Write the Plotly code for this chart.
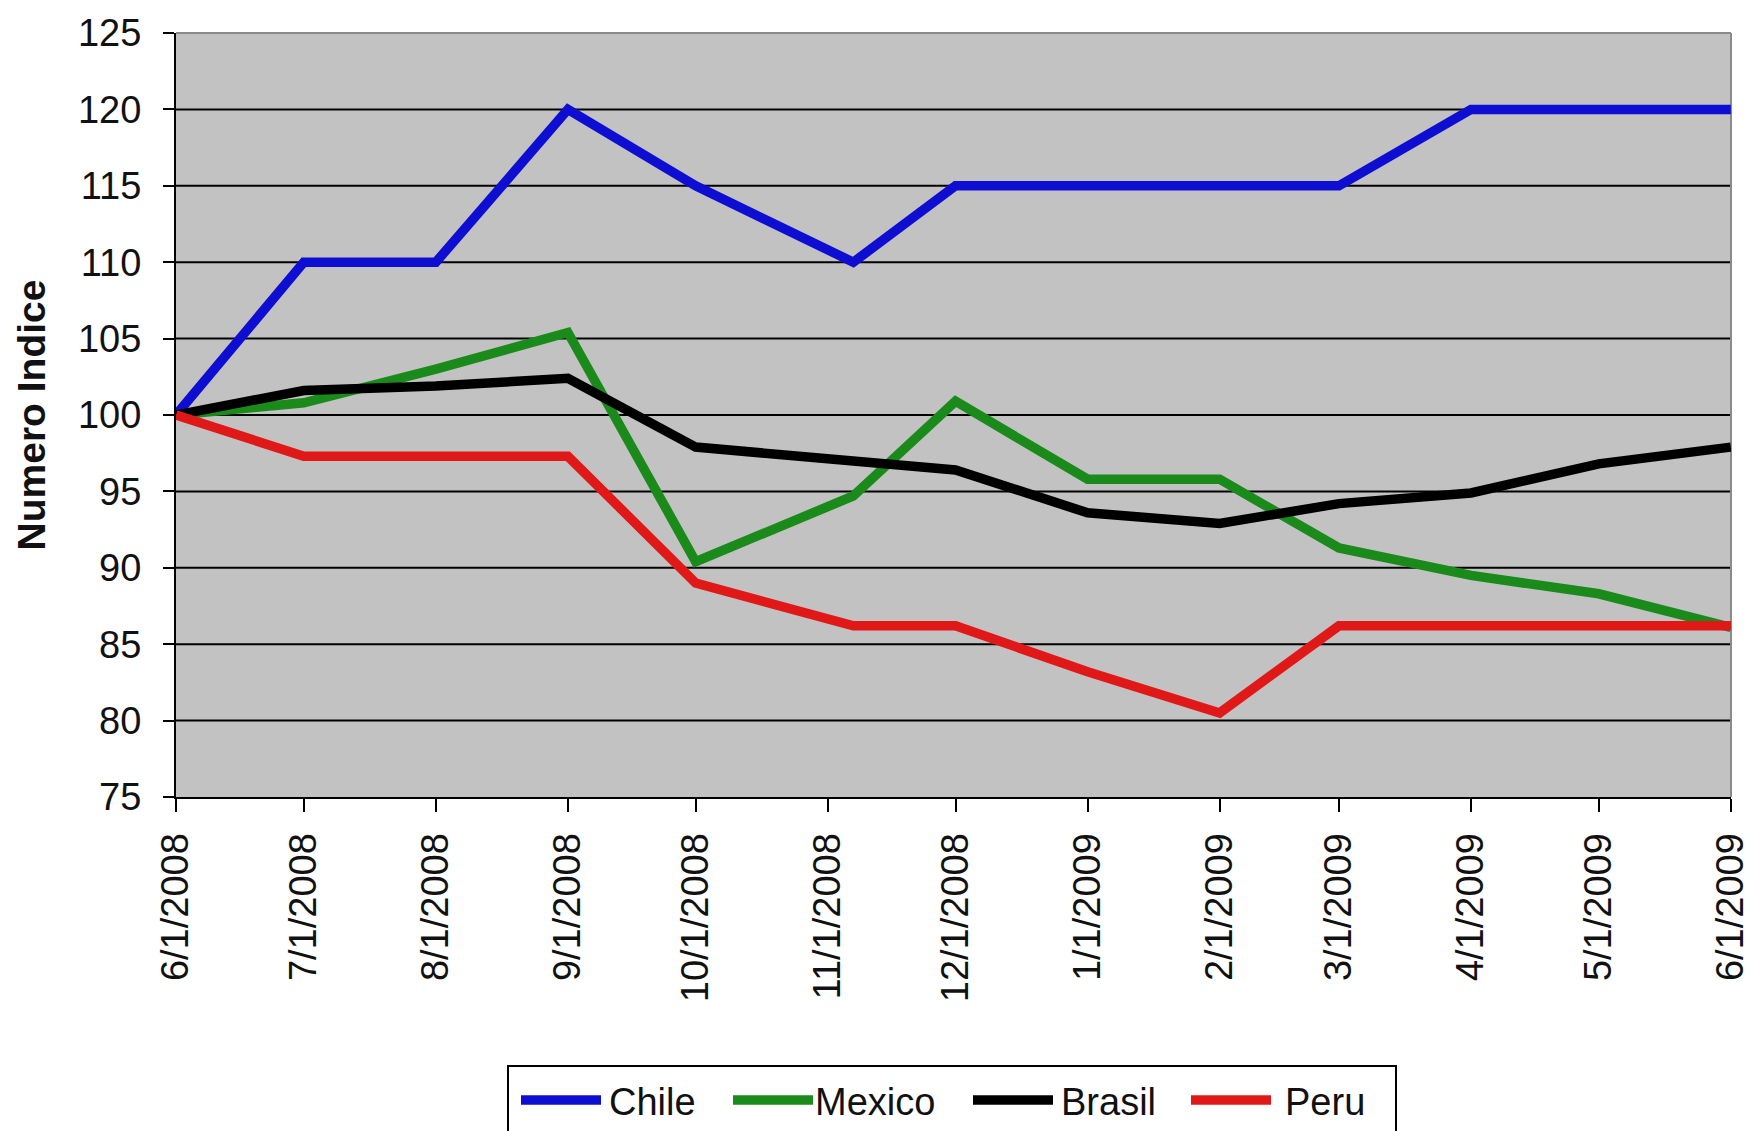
import plotly.graph_objects as go

# Monthly index values (base 100 = June 2008)
fechas = ["2008-06-01", "2008-07-01", "2008-08-01", "2008-09-01", "2008-10-01",
          "2008-11-07", "2008-12-01", "2009-01-01", "2009-02-01", "2009-03-01",
          "2009-04-01", "2009-05-01", "2009-06-01"]
chile = [100, 110, 110, 120, 115, 110, 115, 115, 115, 115, 120, 120, 120]
mexico = [100, 100.8, 103.0, 105.4, 90.4, 94.7, 100.9, 95.8, 95.8, 91.3, 89.5, 88.3, 86.1]
brasil = [100, 101.6, 101.9, 102.4, 97.9, 96.9, 96.4, 93.6, 92.9, 94.2, 94.9, 96.8, 97.9]
peru = [100, 97.3, 97.3, 97.3, 89.0, 86.2, 86.2, 83.2, 80.5, 86.2, 86.2, 86.2, 86.2]

tick_fechas = ["2008-06-01", "2008-07-01", "2008-08-01", "2008-09-01", "2008-10-01",
               "2008-11-01", "2008-12-01", "2009-01-01", "2009-02-01", "2009-03-01",
               "2009-04-01", "2009-05-01", "2009-06-01"]
y_ticks = [75, 80, 85, 90, 95, 100, 105, 110, 115, 120, 125]
grid_vals = [80, 85, 90, 95, 100, 105, 110, 115, 120]

series = [
    ("Chile", chile, "#0E0ED2"),
    ("Mexico", mexico, "#1A8A1A"),
    ("Brasil", brasil, "#000000"),
    ("Peru", peru, "#E01818"),
]

W, H = 1751, 1131
ML, MR, MT, MB = 176, 20, 33, 334
PW, PH = W - ML - MR, H - MT - MB
FONT = "Liberation Sans, Arial, sans-serif"
LW = 9.5


def px_x(x):
    return (x - ML) / PW


def px_y(y):
    return (H - MB - y) / PH


fig = go.Figure()
for name, vals, color in series:
    fig.add_trace(go.Scatter(
        x=fechas, y=vals, mode="lines", name=name,
        line=dict(color=color, width=LW), showlegend=False,
    ))

shapes = []
# horizontal gridlines
for v in grid_vals:
    shapes.append(dict(type="line", xref="paper", yref="y", x0=0, x1=1, y0=v, y1=v,
                       line=dict(color="#000000", width=2), layer="below"))
# plot-area frame (top and right)
shapes.append(dict(type="line", xref="paper", yref="paper", x0=0, x1=1, y0=1, y1=1,
                   line=dict(color="#8a8a8a", width=2), layer="below"))
shapes.append(dict(type="line", xref="paper", yref="paper", x0=1, x1=1, y0=0, y1=1,
                   line=dict(color="#8a8a8a", width=2), layer="below"))

# legend box with line samples
shapes.append(dict(type="rect", xref="paper", yref="paper",
                   x0=px_x(508), x1=px_x(1396), y0=px_y(1066), y1=px_y(1140),
                   line=dict(color="#000000", width=2), fillcolor="white"))
annotations = []
leg_y = 1100
sample_x = [521, 733, 973, 1191]
text_x = [607, 813, 1059, 1283]
for (name, _, color), sx, tx in zip(series, sample_x, text_x):
    shapes.append(dict(type="line", xref="paper", yref="paper",
                       x0=px_x(sx), x1=px_x(sx + 80), y0=px_y(leg_y), y1=px_y(leg_y),
                       line=dict(color=color, width=LW)))
    annotations.append(dict(xref="paper", yref="paper", x=px_x(tx), y=px_y(leg_y + 2),
                            text=name, showarrow=False, xanchor="left", yanchor="middle",
                            font=dict(family=FONT, size=38, color="#111111")))

fig.update_layout(
    width=W, height=H,
    margin=dict(l=ML, r=MR, t=MT, b=MB),
    paper_bgcolor="white",
    plot_bgcolor="#C2C2C2",
    shapes=shapes,
    annotations=annotations,
    showlegend=False,
    font=dict(family=FONT, size=38, color="#111111"),
)

fig.update_xaxes(
    type="date",
    range=[fechas[0], "2009-06-01 01:00"],
    tickvals=tick_fechas,
    tickformat="%-m/%-d/%Y",
    tickangle=-90,
    ticks="outside", ticklen=13, tickwidth=2, tickcolor="#000000",
    ticklabelstandoff=6,
    ticklabeloverflow="allow",
    automargin=False,
    showline=True, linecolor="#000000", linewidth=2,
    showgrid=False, zeroline=False,
    tickfont=dict(family=FONT, size=38, color="#111111"),
)

fig.update_yaxes(
    range=[75, 125],
    tickvals=y_ticks,
    ticks="outside", ticklen=11, tickwidth=2, tickcolor="#000000",
    ticklabelstandoff=14,
    automargin=False,
    showline=True, linecolor="#000000", linewidth=2,
    showgrid=False, zeroline=False,
    tickfont=dict(family=FONT, size=38, color="#111111"),
    title=dict(text="<b>Numero Indice</b>", standoff=20,
               font=dict(family=FONT, size=39, color="#111111")),
)

fig.write_html("out.html")
